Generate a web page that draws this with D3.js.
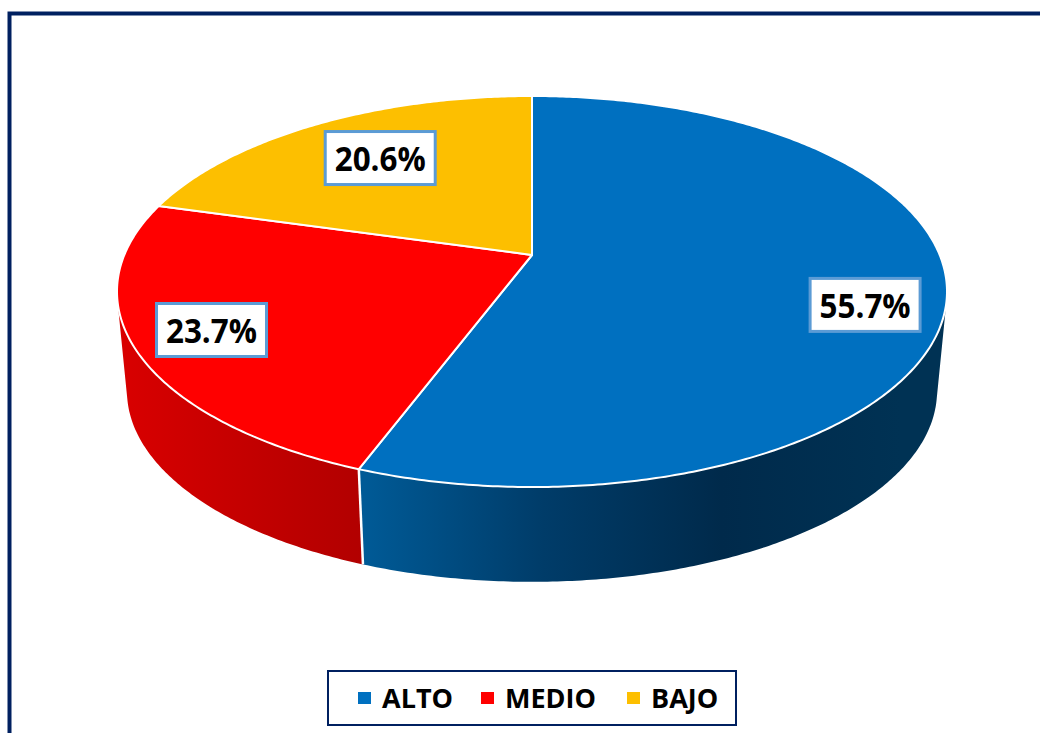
<!DOCTYPE html>
<html>
<head>
<meta charset="utf-8">
<script src="https://cdn.jsdelivr.net/npm/d3@7"></script>
<style>
    html, body { margin: 0; padding: 0; background: #fff; overflow: hidden; }
    svg { display: block; }
    text { font-family: "Open Sans", sans-serif; font-weight: 700; fill: #000; }
</style>
</head>
<body>
<div id="chart"></div>
<script>
    //chart values
    var categories = ["ALTO", "MEDIO", "BAJO"];
    var shares = [55.7, 23.7, 20.6];
    var shareLabels = ["55.7%", "23.7%", "20.6%"];

    //styles per slice
    var topColors = ["#0070c0", "#ff0000", "#fdbf00"];
    var wallColors = [
        ["#005a96", "#003c69", "#002a4b", "#003254"],
        ["#d80000", "#c40000", "#b20000"],
        ["#c09000", "#a07800"]
    ];
    var navy = "#002060";

    //where the data label sits on each slice (fraction of radius, extra y shift)
    var labelRadius = [0.808, 0.82, 0.68];
    var labelShift = [22, 0, -4];

    var width = 1040, height = 733;

    //perspective of the pie disc: unit circle -> screen
    var cx = 532, cy = 255;
    var kx = 407.7, ky = 141.1, persp = -0.1867;
    //the lower rim is the same disc, a bit smaller and further down
    var rimScale = 0.976, rimDrop = 99.5, discMidY = 291.5;

    function projectTop(angle, r) {
        var u = r * Math.sin(angle), v = -r * Math.cos(angle);
        var w = 1 + persp * v;
        return [cx + kx * u / w, (ky * v + cy) / w];
    }
    function projectRim(angle) {
        var p = projectTop(angle, 1);
        return [cx + rimScale * (p[0] - cx), discMidY + rimDrop + rimScale * (p[1] - discMidY)];
    }
    function sweep(a0, a1) {
        var n = Math.max(2, Math.ceil((a1 - a0) / 0.01));
        return d3.range(n + 1).map(function (i) { return a0 + (a1 - a0) * i / n; });
    }

    var line = d3.line();

    var svg = d3.select("#chart").append("svg")
        .attr("width", width)
        .attr("height", height);

    var defs = svg.append("defs");

    var slices = d3.pie().sort(null).value(function (d) { return d; })(shares);

    //horizontal shading of the walls
    var wallExtent = [[365, 900], [125, 362], [120, 360]];
    slices.forEach(function (s, i) {
        var grad = defs.append("linearGradient")
            .attr("id", "wall" + i)
            .attr("gradientUnits", "userSpaceOnUse")
            .attr("x1", wallExtent[i][0]).attr("x2", wallExtent[i][1])
            .attr("y1", 0).attr("y2", 0);
        wallColors[i].forEach(function (c, j) {
            grad.append("stop")
                .attr("offset", j / (wallColors[i].length - 1))
                .attr("stop-color", c);
        });
    });

    //outer frame, right and bottom sides are outside the picture
    svg.append("path")
        .attr("d", "M9.5,733V13.5H1040")
        .attr("fill", "none")
        .attr("stroke", navy)
        .attr("stroke-width", 4);

    //walls first, the top face goes over them
    //built from small quads all wound the same way, a single outline cancels out at the silhouette
    svg.selectAll("path.wall")
        .data(slices)
        .enter()
        .append("path")
        .attr("class", "wall")
        .attr("fill", function (d, i) { return "url(#wall" + i + ")"; })
        .attr("d", function (d) {
            var angles = sweep(d.startAngle, d.endAngle);
            return d3.pairs(angles).map(function (pair) {
                var quad = [projectTop(pair[0], 1), projectTop(pair[1], 1), projectRim(pair[1]), projectRim(pair[0])];
                if (d3.polygonArea(quad) < 0) quad.reverse();
                return line(quad) + "Z";
            }).join("");
        });

    //white seam between the two visible walls
    svg.append("path")
        .attr("fill", "none")
        .attr("stroke", "#fff")
        .attr("stroke-width", 2.5)
        .attr("d", line([projectTop(slices[0].endAngle, 1), projectRim(slices[0].endAngle)]));

    //top face
    svg.selectAll("path.top")
        .data(slices)
        .enter()
        .append("path")
        .attr("class", "top")
        .attr("fill", function (d, i) { return topColors[i]; })
        .attr("stroke", "#fff")
        .attr("stroke-width", 2)
        .attr("stroke-linejoin", "round")
        .attr("d", function (d) {
            var pts = sweep(d.startAngle, d.endAngle).map(function (a) { return projectTop(a, 1); });
            return line([[cx, cy]].concat(pts)) + "Z";
        });

    //data labels
    var boxW = 110, boxH = 53;
    var labels = svg.selectAll("g.shareLabel")
        .data(slices)
        .enter()
        .append("g")
        .attr("class", "shareLabel")
        .attr("transform", function (d, i) {
            var p = projectTop((d.startAngle + d.endAngle) / 2, labelRadius[i]);
            return "translate(" + p[0] + "," + (p[1] + labelShift[i]) + ")";
        });
    labels.append("rect")
        .attr("x", -boxW / 2)
        .attr("y", -boxH / 2)
        .attr("width", boxW)
        .attr("height", boxH)
        .attr("fill", "#fff")
        .attr("stroke", "#5b9bd5")
        .attr("stroke-width", 3);
    labels.append("text")
        .attr("text-anchor", "middle")
        .attr("y", 13)
        .attr("font-size", 34)
        .attr("textLength", 91)
        .attr("lengthAdjust", "spacingAndGlyphs")
        .text(function (d, i) { return shareLabels[i]; });

    //legend
    svg.append("rect")
        .attr("x", 328)
        .attr("y", 671)
        .attr("width", 408)
        .attr("height", 54)
        .attr("fill", "#fff")
        .attr("stroke", navy)
        .attr("stroke-width", 2);

    var legendX = d3.scaleOrdinal().domain(categories).range([358, 481, 627]);
    var legend = svg.selectAll("g.legendItem")
        .data(categories)
        .enter()
        .append("g")
        .attr("class", "legendItem")
        .attr("transform", function (d) { return "translate(" + legendX(d) + ",698)"; });
    legend.append("rect")
        .attr("y", -6)
        .attr("width", 13)
        .attr("height", 12)
        .attr("fill", function (d, i) { return topColors[i]; });
    legend.append("text")
        .attr("x", 24)
        .attr("y", 9.5)
        .attr("font-size", 27)
        .text(function (d) { return d; });
</script>
</body>
</html>
